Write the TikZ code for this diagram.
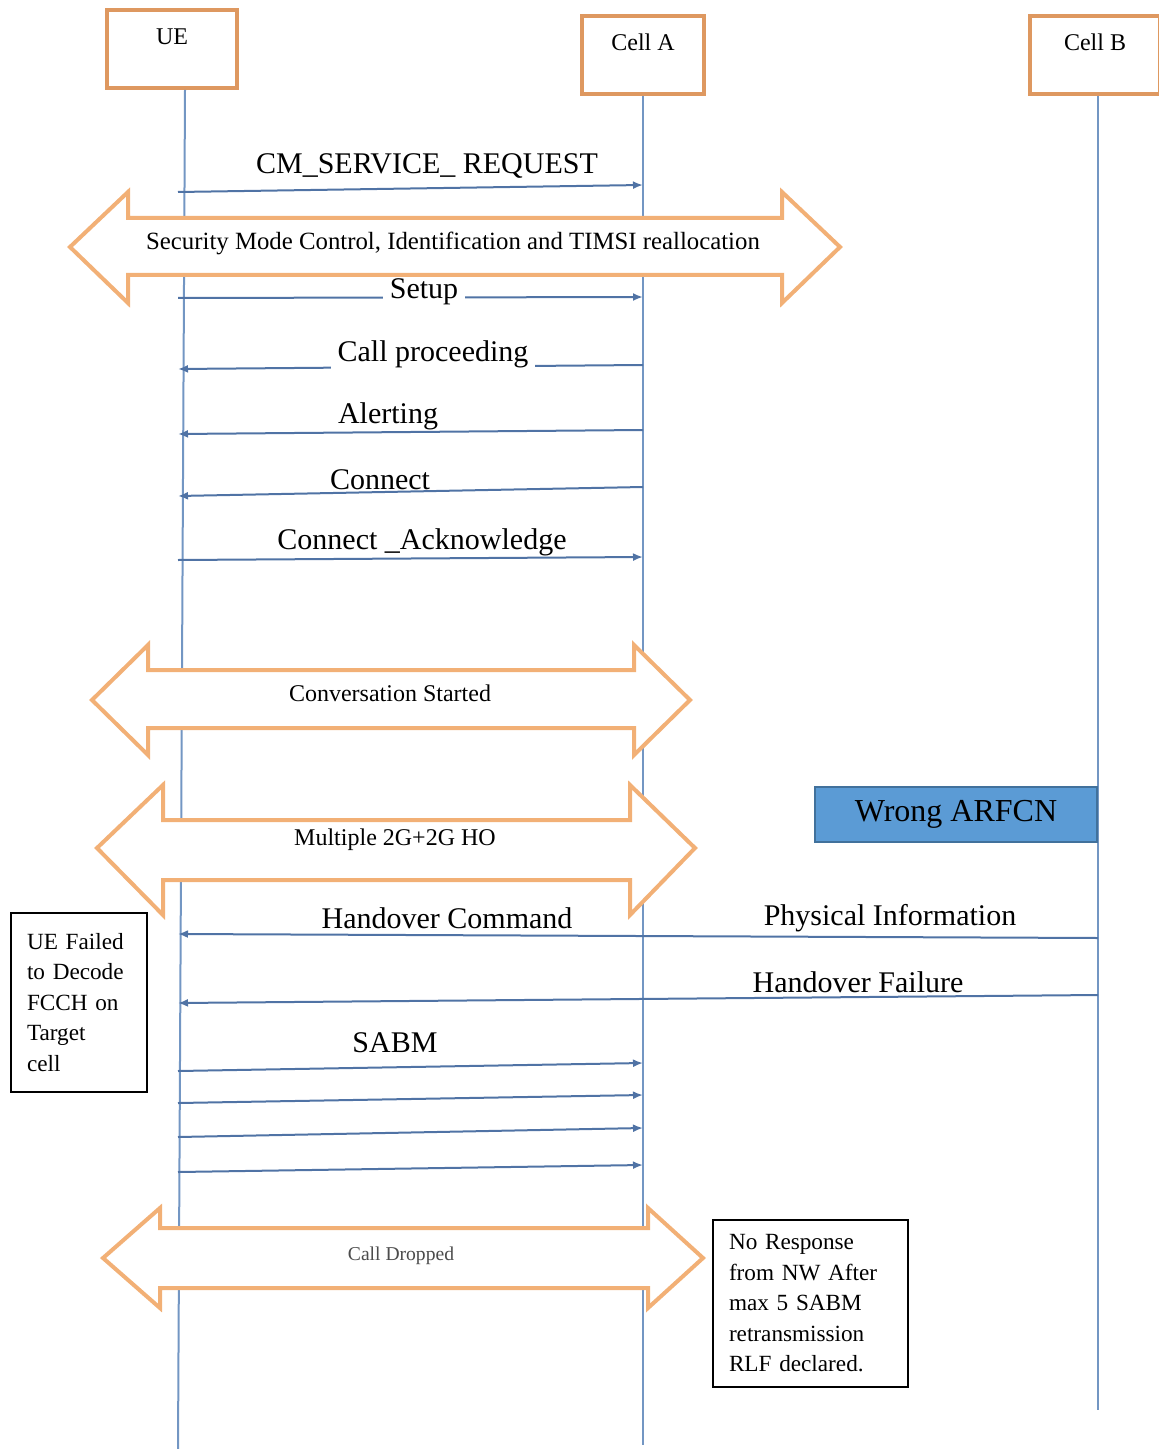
\documentclass[tikz,border=0pt]{standalone}
\usepackage{fontspec}
\setmainfont{Liberation Serif}
\usetikzlibrary{arrows.meta,calc}

\definecolor{boxorange}{RGB}{222,152,96}
\definecolor{arroworange}{RGB}{242,176,118}
\definecolor{lifeblue}{RGB}{115,150,195}
\definecolor{msgblue}{RGB}{80,115,165}
\definecolor{arfcnblue}{RGB}{91,155,213}
\definecolor{arfcnedge}{RGB}{65,113,156}

\tikzset{
  actor/.style={draw=boxorange, line width=2pt, anchor=north, inner ysep=0pt,
    text height=17.5pt, text depth=21.5pt, font=\fontsize{12}{14}\selectfont},
  lifeline/.style={draw=lifeblue, line width=1pt},
  msg/.style={draw=msgblue, line width=1pt, -{Latex[length=5pt,width=4pt]}},
  msglabel/.style={font=\fontsize{15}{18}\selectfont},
  bigarrow/.style={draw=arroworange, line width=2pt, fill=white, line join=miter},
  bigtext/.style={font=\fontsize{12}{14}\selectfont},
  note/.style={draw, line width=1pt, anchor=north west, align=left,
    inner xsep=8pt, font=\fontsize{11.6}{15.25}\selectfont},
}

\begin{document}
\begin{tikzpicture}[x=0.5pt,y=-0.5pt]
\useasboundingbox (0,0) rectangle (1158,1449);

% participants
\node[actor, minimum width=65pt] (ue) at (172,8) {UE};
\node[actor, minimum width=61pt] (cella) at (643,14) {Cell A};
\node[actor, minimum width=65pt] (cellb) at (1095,14) {Cell B};

% lifelines
\coordinate (ueEnd) at (178,1449);
\coordinate (cellaEnd) at (643,1445);
\coordinate (cellbEnd) at (1098,1410);
\draw[lifeline] ([xshift=6.5pt]ue.south) -- (ueEnd);
\draw[lifeline] (cella.south) -- (cellaEnd);
\draw[lifeline] ([xshift=1.5pt]cellb.south) -- (cellbEnd);

% big double arrows
\draw[bigarrow] (70,247) -- (128,192) -- (128,218) -- (782,218) -- (782,192) -- (840,247)
  -- (782,303) -- (782,275) -- (128,275) -- (128,303) -- cycle;
\node[bigtext, font=\fontsize{12.4}{14}\selectfont] (secmode) at (453,243)
  {Security Mode Control, Identification and TIMSI reallocation};

\draw[bigarrow] (92,700) -- (148,645) -- (148,670) -- (634,670) -- (634,645) -- (690,700)
  -- (634,755) -- (634,728) -- (148,728) -- (148,755) -- cycle;
\node[bigtext] (convstart) at (390,693) {Conversation Started};

\draw[bigarrow] (97,848) -- (163,785) -- (163,820) -- (630,820) -- (630,785) -- (695,848)
  -- (630,915) -- (630,880) -- (163,880) -- (163,915) -- cycle;
\node[bigtext] (multiho) at (395,840) {Multiple 2G+2G HO};

\draw[bigarrow] (103,1258) -- (160,1208) -- (160,1228) -- (648,1228) -- (648,1208) -- (703,1258)
  -- (648,1308) -- (648,1288) -- (160,1288) -- (160,1308) -- cycle;
\node[font=\fontsize{9.8}{11}\selectfont, text=black!70] (calldrop) at (401,1256) {Call Dropped};

% messages
\draw[msg] (ueEnd|-0,192) -- (cellaEnd|-0,185);
\node[msglabel] (cmreq) at (427,166) {CM\_SERVICE\_ REQUEST};

\draw[msg] (ueEnd|-0,298) -- (cellaEnd|-0,297);
\node[msglabel, fill=white, inner ysep=1pt] (setup) at (424,292) {Setup};

\draw[msg] (cellaEnd|-0,365) -- (ueEnd|-0,369);
\node[msglabel, fill=white] (callproc) at (433,354) {Call proceeding};

\draw[msg] (cellaEnd|-0,430) -- (ueEnd|-0,434);
\node[msglabel] (alerting) at (388,416) {Alerting};

\draw[msg] (cellaEnd|-0,487) -- (ueEnd|-0,496);
\node[msglabel] (connect) at (380,480) {Connect};

\draw[msg] (ueEnd|-0,560) -- (cellaEnd|-0,557);
\node[msglabel] (connack) at (422,542) {Connect \_Acknowledge};

\node[draw=arfcnedge, fill=arfcnblue, line width=1pt, minimum width=141pt, minimum height=27.5pt,
  font=\fontsize{16}{19}\selectfont] (arfcn) at (956,814.5) {Wrong ARFCN};

\draw[msg] (cellbEnd|-0,938) -- (ueEnd|-0,934);
\node[msglabel] (hocmd) at (447,918) {Handover Command};
\node[msglabel] (phyinfo) at (890,918) {Physical Information};

\draw[msg] (cellbEnd|-0,995) -- (ueEnd|-0,1003);
\node[msglabel] (hofail) at (858,982) {Handover Failure};

\node[msglabel] (sabm) at (395,1043) {SABM};
\foreach \ya/\yb in {1071/1063, 1103/1095, 1137/1128, 1172/1165}
  \draw[msg] (ueEnd|-0,\ya) -- (cellaEnd|-0,\yb);

% notes
\node[note, text width=52pt, minimum height=89.5pt] (fail) at (10,912)
  {UE Failed\\to Decode\\FCCH on\\Target\\cell};
\node[note, text width=81.5pt, minimum height=83.5pt] (norsp) at (712,1219)
  {No Response\\from NW After\\max 5 SABM\\retransmission\\RLF declared.};

\end{tikzpicture}
\end{document}
